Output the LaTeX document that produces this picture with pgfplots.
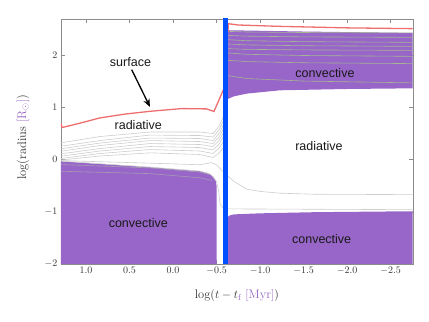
\documentclass[border=0pt]{standalone}
\usepackage{fontspec}
\usepackage{pgfplots}
\pgfplotsset{compat=1.18}
\usetikzlibrary{arrows.meta}
\newfontfamily\arial{Liberation Sans}
\definecolor{purp}{RGB}{152,102,200}
\definecolor{bluel}{RGB}{0,80,255}
\definecolor{surfred}{RGB}{238,110,110}
\definecolor{shellgrey}{RGB}{205,205,205}
\definecolor{shellgreen}{RGB}{165,180,145}
\definecolor{coregrey}{RGB}{165,155,180}

\begin{document}
\begin{tikzpicture}
\begin{axis}[
  scale only axis, width=351.7bp, height=245bp,
  x dir=reverse,
  xmin=-2.753, xmax=1.287, ymin=-2, ymax=2.69,
  xtick={-2.5,-2.0,-1.5,-1.0,-0.5,0,0.5,1.0},
  ytick={-2,-1,0,1,2},
  tick align=inside, major tick length=4bp,
  axis line style={black!45},
  every tick/.style={black!45},
  ticklabel style={font=\fontsize{10.4bp}{12bp}\selectfont, text=black!80},
  xticklabel style={/pgf/number format/.cd, fixed, fixed zerofill, precision=1},
  xlabel={$\log(t - t_{\textcolor{purp}{\mathrm{f}}}\ \textcolor{purp}{[\mathrm{Myr}]})$},
  ylabel={log(radius \textcolor{purp}{[$\mathrm{R}_\odot$]})},
  label style={font=\fontsize{12.5bp}{15bp}\selectfont, text=black!80},
  xlabel style={at={(axis description cs:0.5,-0.13)}, anchor=center},
  ylabel style={at={(axis description cs:-0.108,0.518)}, anchor=center},
  shell/.style={draw=shellgrey, line width=0.6bp, no marks},
  gshell/.style={draw=shellgreen, line width=0.6bp, no marks},
]
% convective zones
\addplot[fill=purp, draw=none] coordinates {
(1.30,-2.1) (1.30,-0.033) (0.265,-0.147) (-0.309,-0.224) (-0.40,-0.26)
(-0.46,-0.32) (-0.49,-0.40) (-0.501,-0.52) (-0.501,-2.1)};
\addplot[fill=purp, draw=none] coordinates {
(-0.631,2.475) (-1.5,2.45) (-2.76,2.423) (-2.76,1.363) (-1.998,1.35)
(-1.228,1.325) (-0.849,1.262) (-0.70,1.21) (-0.631,1.16)};
\addplot[fill=purp, draw=none] coordinates {
(-0.631,-2.1) (-0.631,-1.10) (-0.65,-1.07) (-0.70,-1.05) (-1.0,-1.03)
(-1.63,-1.008) (-2.76,-0.99) (-2.76,-2.1)};
% shells inside the lower left convective zone
\addplot[draw=coregrey, line width=0.6bp] coordinates {
(1.30,-0.096) (0.265,-0.16) (-0.309,-0.24) (-0.42,-0.29)};
\addplot[draw=coregrey, line width=0.6bp] coordinates {
(1.30,-0.224) (0.265,-0.27) (-0.309,-0.35) (-0.45,-0.40)};
% radiative shells
\addplot[shell] coordinates {
(1.29,0.319) (0.839,0.44) (0.265,0.526) (-0.309,0.526) (-0.459,0.497) (-0.53,0.643) (-0.58,0.822)};
\addplot[shell] coordinates {
(1.29,0.254) (0.839,0.363) (0.265,0.468) (-0.309,0.459) (-0.459,0.430) (-0.53,0.572) (-0.58,0.746)};
\addplot[shell] coordinates {
(1.29,0.205) (0.839,0.315) (0.265,0.411) (-0.309,0.402) (-0.459,0.363) (-0.53,0.501) (-0.58,0.669)};
\addplot[shell] coordinates {
(1.29,0.159) (0.839,0.268) (0.265,0.363) (-0.309,0.344) (-0.459,0.306) (-0.53,0.435) (-0.58,0.593)};
\addplot[shell] coordinates {
(1.29,0.109) (0.839,0.210) (0.265,0.306) (-0.309,0.287) (-0.459,0.249) (-0.53,0.369) (-0.58,0.516)};
\addplot[shell] coordinates {
(1.29,0.063) (0.839,0.163) (0.265,0.249) (-0.309,0.229) (-0.459,0.182) (-0.53,0.298) (-0.58,0.440)};
\addplot[shell] coordinates {
(1.29,0.019) (0.839,0.115) (0.265,0.191) (-0.309,0.163) (-0.459,0.115) (-0.53,0.218) (-0.58,0.344)};
\addplot[shell] coordinates {
(1.29,-0.01) (0.839,0.067) (0.265,0.128) (-0.309,0.096) (-0.459,0.038) (-0.53,0.124) (-0.58,0.229)};
\addplot[shell] coordinates {
(1.29,-0.02) (0.265,-0.07) (-0.309,-0.10) (-0.44,-0.06) (-0.50,-0.10) (-0.585,-0.25)
(-0.631,-0.32) (-0.70,-0.42) (-0.85,-0.57) (-1.0,-0.61) (-1.23,-0.645) (-1.63,-0.665) (-2.76,-0.672)};
\addplot[shell] coordinates {
(1.29,-0.03) (0.265,-0.145) (-0.309,-0.22) (-0.43,-0.28) (-0.50,-0.42) (-0.525,-0.6)
(-0.54,-0.85) (-0.58,-0.94) (-0.631,-0.945) (-2.76,-0.96)};
% shells inside the upper right convective zone
\addplot[gshell] coordinates {(-0.631,2.453) (-0.85,2.441) (-1.5,2.431) (-2.76,2.423)};
\addplot[gshell] coordinates {(-0.631,2.377) (-0.85,2.361) (-1.5,2.348) (-2.76,2.338)};
\addplot[gshell] coordinates {(-0.631,2.294) (-0.85,2.274) (-1.5,2.256) (-2.76,2.243)};
\addplot[gshell] coordinates {(-0.631,2.212) (-0.85,2.194) (-1.5,2.178) (-2.76,2.166)};
\addplot[gshell] coordinates {(-0.631,2.122) (-0.85,2.109) (-1.5,2.098) (-2.76,2.090)};
\addplot[gshell] coordinates {(-0.631,2.040) (-0.85,2.014) (-1.5,1.991) (-2.76,1.975)};
\addplot[gshell] coordinates {(-0.631,1.899) (-0.85,1.874) (-1.5,1.852) (-2.76,1.836)};
\addplot[gshell] coordinates {(-0.631,1.606) (-0.85,1.550) (-1.5,1.502) (-2.76,1.467)};
% stellar surface
\addplot[draw=surfred, line width=1.3bp] coordinates {
(1.285,0.69) (1.275,0.612) (1.069,0.696) (0.839,0.797) (0.55,0.87) (0.265,0.923)
(-0.099,0.975) (-0.386,0.969) (-0.47,0.92) (-0.58,1.34)};
\addplot[draw=surfred, line width=1.3bp] coordinates {
(-0.631,2.45) (-0.635,2.60) (-0.75,2.575) (-1.2,2.55) (-2.0,2.52) (-2.76,2.505)};
% blue marker
\addplot[draw=bluel, line width=4.5bp] coordinates {(-0.602,-2.2) (-0.602,2.9)};
% annotations
\begin{scope}[every node/.style={font=\arial\fontsize{12.5bp}{15bp}\selectfont, text=black!90}]
\node at (axis cs:0.489,1.874) {surface};
\node at (axis cs:0.399,0.656) {radiative};
\node at (axis cs:-1.676,0.254) {radiative};
\node at (axis cs:-1.745,1.657) {convective};
\node at (axis cs:0.399,-1.211) {convective};
\node at (axis cs:-1.707,-1.516) {convective};
\end{scope}
\draw[line width=1.3bp, -{Stealth[length=8bp,width=6.5bp]}] (axis cs:0.475,1.72) -- (axis cs:0.265,1.007);
\end{axis}
\path[use as bounding box] ([xshift=-61bp,yshift=-58bp]current axis.south west)
  rectangle ([xshift=16.3bp,yshift=19bp]current axis.north east);
\end{tikzpicture}
\end{document}
